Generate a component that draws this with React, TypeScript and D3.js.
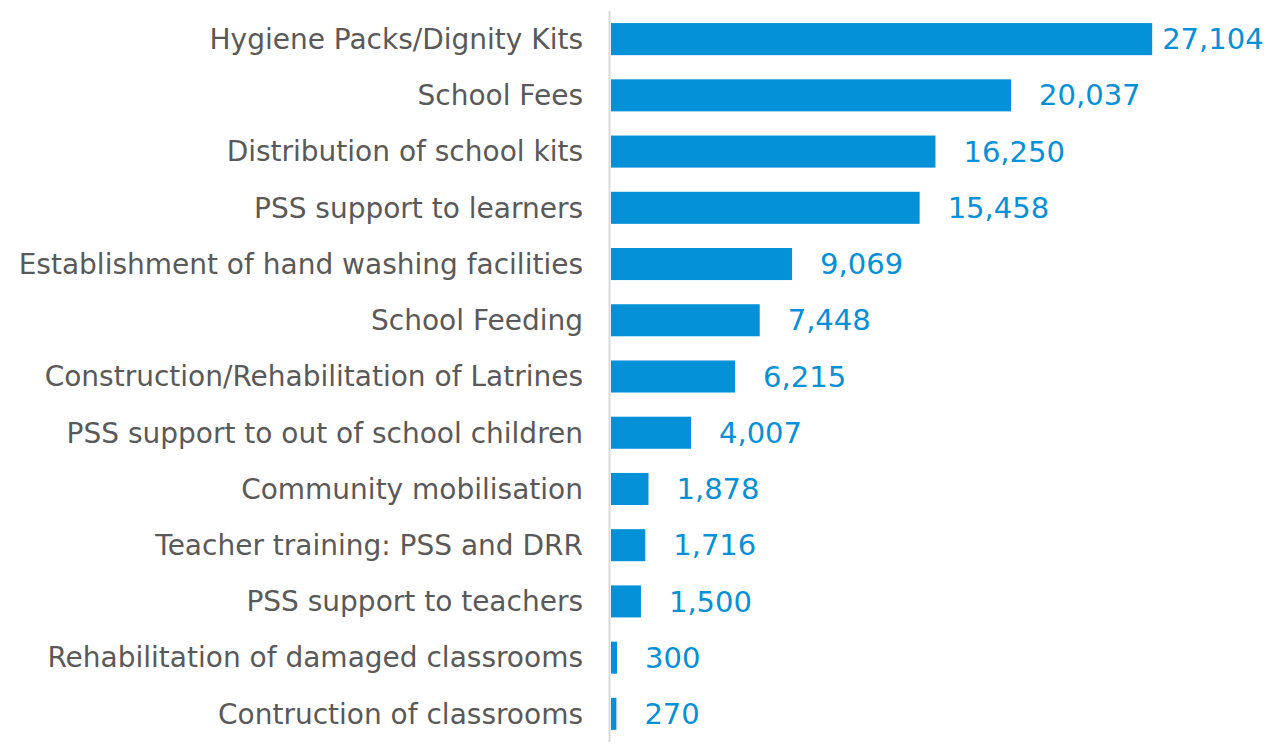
import React, { useEffect, useRef } from "react";
import * as d3 from "d3";

const categories = [
  "Hygiene Packs/Dignity Kits",
  "School Fees",
  "Distribution of school kits",
  "PSS support to learners",
  "Establishment of hand washing facilities",
  "School Feeding",
  "Construction/Rehabilitation of Latrines",
  "PSS support to out of school children",
  "Community mobilisation",
  "Teacher training: PSS and DRR",
  "PSS support to teachers",
  "Rehabilitation of damaged classrooms",
  "Contruction of classrooms",
];

const values = [27104, 20037, 16250, 15458, 9069, 7448, 6215, 4007, 1878, 1716, 1500, 300, 270];

const App = () => {
  const svgRef = useRef<SVGSVGElement | null>(null);

  useEffect(() => {
    const width = 1277;
    const svg = d3.select(svgRef.current);
    svg.selectAll("*").remove();

    const data = categories.map((c, i) => ({ name: c, value: values[i] }));

    const x = d3.scaleLinear().domain([0, 30000]).range([611, 1210]);
    const y = d3
      .scaleBand<string>()
      .domain(categories)
      .range([11, 742])
      .paddingInner(0.43)
      .paddingOuter(0.215);

    svg
      .append("g")
      .selectAll("rect")
      .data(data)
      .enter()
      .append("rect")
      .attr("x", x(0))
      .attr("y", (d) => y(d.name)!)
      .attr("width", (d) => x(d.value) - x(0))
      .attr("height", y.bandwidth())
      .attr("fill", "#0591D8");

    // vertical axis line
    svg
      .append("line")
      .attr("x1", 609.5)
      .attr("x2", 609.5)
      .attr("y1", 11)
      .attr("y2", 742)
      .attr("stroke", "#d9d9d9")
      .attr("stroke-width", 2);

    svg
      .append("g")
      .selectAll("text")
      .data(data)
      .enter()
      .append("text")
      .attr("x", 583)
      .attr("y", (d) => y(d.name)! + y.bandwidth() / 2)
      .attr("dy", "0.35em")
      .attr("text-anchor", "end")
      .attr("fill", "#595959")
      .style("font-family", "'DejaVu Sans', Verdana, sans-serif")
      .style("font-size", "28px")
      .text((d) => d.name);

    const fmt = d3.format(",");
    const labels = svg
      .append("g")
      .selectAll("text")
      .data(data)
      .enter()
      .append("text")
      .attr("y", (d) => y(d.name)! + y.bandwidth() / 2)
      .attr("dy", "0.35em")
      .attr("fill", "#0590D8")
      .style("font-family", "'DejaVu Sans', Verdana, sans-serif")
      .style("font-size", "29px")
      .text((d) => fmt(d.value));

    // outside-end labels, pulled in when they would run off the right edge
    labels.attr("x", function (d) {
      const w = (this as SVGTextElement).getComputedTextLength();
      const pos = x(d.value) + 28;
      return pos + w > width - 5 ? x(d.value) + 10 : pos;
    });
  }, []);

  return (
    <div style={{ position: "absolute", left: 0, top: 0, background: "#fff" }}>
      <svg ref={svgRef} width={1277} height={746} style={{ display: "block" }}></svg>
    </div>
  );
};

export default App;
